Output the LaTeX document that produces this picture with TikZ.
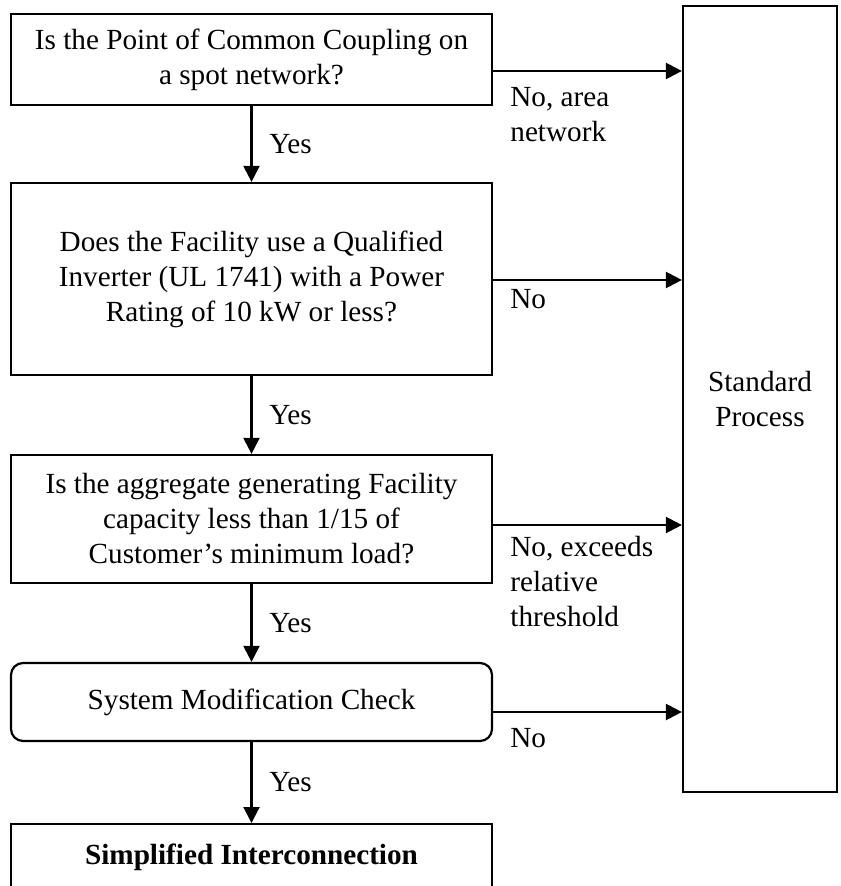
\documentclass[tikz,border=0pt]{standalone}
\usepackage{fontspec}
\setmainfont{Liberation Serif}
\usetikzlibrary{positioning,arrows.meta}

\tikzset{
  qbox/.style={draw, line width=1.1pt, minimum width=240.5pt, align=center, inner sep=2pt},
  arr/.style={line width=1.1pt, -{Triangle[length=8pt,width=8pt]}},
  yes/.style={midway, right=5pt},
  nolbl/.style={anchor=north west, inner sep=0pt, align=left},
}

\begin{document}
\begin{tikzpicture}[x=0.5pt, y=-0.5pt, font=\fontsize{14.6}{17.5}\selectfont]
    \useasboundingbox (0,0) rectangle (840,886);
    \clip (0,0) rectangle (840,886);

    % Questions
    \node[qbox, minimum height=45.5pt] (q1) at (251.5,59.5) {Is the Point of Common Coupling on\\a spot network?};
    \node[qbox, minimum height=96pt] (q2) at (251.5,279) {Does the Facility use a Qualified\\Inverter (UL 1741) with a Power\\Rating of 10 kW or less?};
    \node[qbox, minimum height=64pt] (q3) at (251.5,519) {Is the aggregate generating Facility\\capacity less than 1/15 of\\Customer’s minimum load?};
    \node[qbox, rounded corners=6pt, minimum height=39pt] (q4) at (251.5,702) {System Modification Check};

    % Results
    \node[qbox, anchor=north, text height=10pt, text depth=30pt, inner ysep=10pt] (res) at (251.5,823) {\textbf{Simplified Interconnection}};
    \node[draw, line width=1.1pt, minimum width=77pt, minimum height=393pt, align=center] (sp) at (760,399) {Standard\\Process};

    % Yes path
    \draw[arr] (q1) -- node[yes] {Yes} (q2);
    \draw[arr] (q2) -- node[yes] {Yes} (q3);
    \draw[arr] (q3) -- node[yes] {Yes} (q4);
    \draw[arr] (q4) -- node[yes] {Yes} (res);

    % No path
    \coordinate (o1) at ([yshift=-5.75pt]q1.east);
    \coordinate (o2) at ([yshift=-0.5pt]q2.east);
    \coordinate (o3) at ([yshift=-3pt]q3.east);
    \coordinate (o4) at ([yshift=-5pt]q4.east);
    \draw[arr] (o1) -- (o1 -| sp.west);
    \draw[arr] (o2) -- (o2 -| sp.west);
    \draw[arr] (o3) -- (o3 -| sp.west);
    \draw[arr] (o4) -- (o4 -| sp.west);

    \node[nolbl] (n1) at (510,87) {No, area\\network};
    \node[nolbl] (n2) at (510,289) {No};
    \node[nolbl] (n3) at (510,536) {No, exceeds\\relative\\threshold};
    \node[nolbl] (n4) at (510,728) {No};
\end{tikzpicture}
\end{document}
